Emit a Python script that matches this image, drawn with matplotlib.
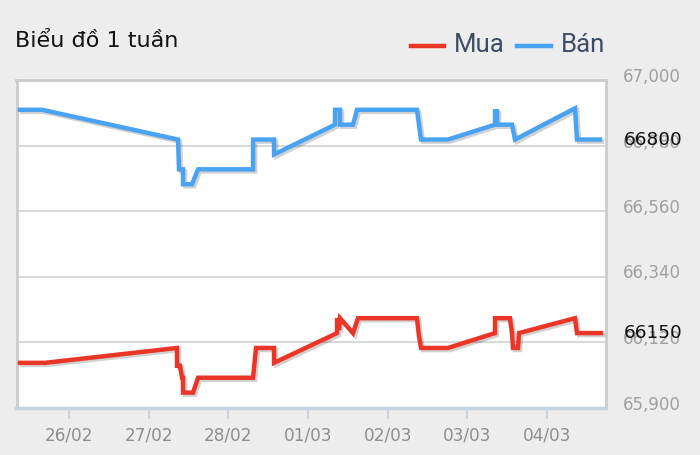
import matplotlib
matplotlib.use("Agg")
import matplotlib.pyplot as plt
import matplotlib.patheffects as pe
import matplotlib.transforms as mtrans
from matplotlib.lines import Line2D

plt.rcParams['font.family'] = ['DejaVu Sans']

# x positions in days since 26/02 00:00 (tick at 0 = 26/02)
x_labels = ["26/02", "27/02", "28/02", "01/03", "02/03", "03/03", "04/03"]
y_ticks = [65900, 66120, 66340, 66560, 66780, 67000]

ban_x = [-0.615, -0.339, 1.368, 1.380, 1.430, 1.431, 1.543, 1.619, 2.309, 2.310,
         2.572, 2.573, 3.337, 3.338, 3.400, 3.401, 3.563, 3.614, 4.366, 4.391,
         4.417, 4.755, 5.345, 5.346, 5.370, 5.371, 5.558, 5.596, 6.349, 6.374, 6.662]
ban_y = [66900, 66900, 66800, 66700, 66700, 66650, 66650, 66700, 66700, 66800,
         66800, 66750, 66850, 66900, 66900, 66850, 66850, 66900, 66900, 66850,
         66800, 66800, 66850, 66895, 66895, 66850, 66850, 66800, 66905, 66800, 66800]

mua_x = [-0.615, -0.301, 1.355, 1.356, 1.393, 1.418, 1.430, 1.431, 1.556, 1.619,
         2.309, 2.346, 2.572, 2.573, 3.363, 3.364, 3.388, 3.400, 3.563, 3.626,
         4.366, 4.391, 4.417, 4.755, 5.345, 5.346, 5.533, 5.558, 5.571, 5.634,
         5.646, 6.349, 6.374, 6.675]
mua_y = [66050, 66050, 66100, 66040, 66040, 66000, 66000, 65950, 65950, 66000,
         66000, 66100, 66100, 66050, 66150, 66200, 66160, 66200, 66150, 66200,
         66200, 66140, 66100, 66100, 66150, 66200, 66200, 66150, 66100, 66100,
         66150, 66200, 66150, 66150]

last_ban = "66800"
last_mua = "66150"

RED = "#ea3527"
BLUE = "#4aa3f2"
BG = "#ededed"

W, H = 700, 455
fig = plt.figure(figsize=(7, 4.55), dpi=100, facecolor=BG)
L, R, T, B = 16.5, 606, 80, 407.5
ax = fig.add_axes([L / W, 1 - B / H, (R - L) / W, (B - T) / H])
ax.set_facecolor("white")

shadow = [pe.SimpleLineShadow(offset=(1.5, -1.5), shadow_color="k", alpha=0.18),
          pe.Normal()]
ax.plot(mua_x, mua_y, color=RED, lw=3.2, solid_joinstyle="miter",
        path_effects=shadow, zorder=3)
ax.plot(ban_x, ban_y, color=BLUE, lw=3.2, solid_joinstyle="miter",
        path_effects=shadow, zorder=3)

ax.set_xlim(-0.659, 6.738)
ax.set_ylim(65900, 67000)
ax.set_yticks(y_ticks)
ax.set_yticklabels([f"{v:,}" for v in y_ticks])
ax.yaxis.tick_right()
ax.tick_params(axis="y", length=0, pad=12, labelsize=12, labelcolor="#a0a0a0")
shift = mtrans.ScaledTranslation(0, 5 / 100, fig.dpi_scale_trans)
for lbl in ax.get_yticklabels():
    lbl.set_transform(lbl.get_transform() + shift)
ax.set_xticks(range(len(x_labels)))
ax.set_xticklabels(x_labels)
ax.tick_params(axis="x", length=8, width=1.5, color="#c5d3e2", pad=6,
               labelsize=12.2, labelcolor="#8e8e8e")
ax.grid(axis="y", color="#d9d9d9", lw=1.5, zorder=0)
for s in ["top", "left", "right"]:
    ax.spines[s].set_color("#cccccc")
    ax.spines[s].set_linewidth(2)
ax.spines["bottom"].set_color("#c5d3e2")
ax.spines["bottom"].set_linewidth(2.5)

# current value labels over the y axis
xo = 1 + 18 / (R - L)
ax.text(xo, 66800, last_ban, transform=ax.get_yaxis_transform(),
        ha="left", va="center", fontsize=13.3, color="#111111", clip_on=False)
ax.text(xo, 66150, last_mua, transform=ax.get_yaxis_transform(),
        ha="left", va="center", fontsize=13.3, color="#111111", clip_on=False)

# title
fig.text(15 / W, 1 - 41 / H, "Biểu đồ 1 tuần", fontsize=16, color="#111111",
         va="center", ha="left")

# legend
ly = 1 - 46 / H
fig.add_artist(Line2D([411 / W, 444 / W], [ly, ly], color=RED, lw=3.2,
                      transform=fig.transFigure))
fig.text(454 / W, 1 - 45 / H, "Mua", fontsize=18.5, color="#3d4d65",
         va="center", ha="left", family=["Roboto", "DejaVu Sans"])
fig.add_artist(Line2D([517 / W, 551 / W], [ly, ly], color=BLUE, lw=3.2,
                      transform=fig.transFigure))
fig.text(561 / W, 1 - 45 / H, "Bán", fontsize=18.5, color="#3d4d65",
         va="center", ha="left", family=["Roboto", "DejaVu Sans"])

fig.savefig("out.png", dpi=100, facecolor=BG)
